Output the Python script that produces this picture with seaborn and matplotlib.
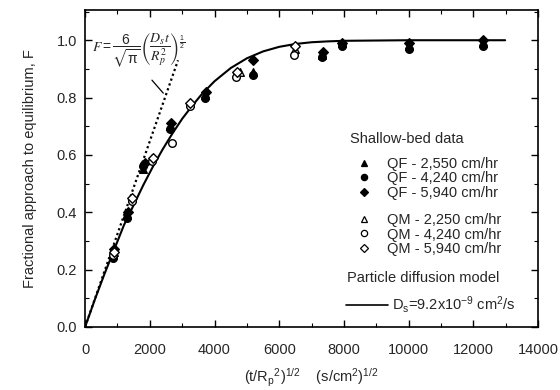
import matplotlib
matplotlib.use("Agg")
import matplotlib.pyplot as plt
import seaborn as sns
import pandas as pd
from matplotlib.lines import Line2D
from matplotlib.ticker import MultipleLocator, FormatStrFormatter

sns.set_style("ticks")
plt.rcParams["font.family"] = ["Liberation Sans", "DejaVu Sans"]
plt.rcParams["mathtext.default"] = "regular"
plt.rcParams["font.size"] = 10.5

# ---- data ----
qf2550_x = [870, 1300, 1800, 2630, 3700, 5200, 7320, 7940, 10010, 12300]
qf2550_f = [0.25, 0.39, 0.55, 0.70, 0.81, 0.89, 0.95, 0.99, 0.98, 0.99]
qf4240_x = [870, 1300, 1800, 2630, 3700, 5200, 7320, 7940, 10010, 12300]
qf4240_f = [0.24, 0.38, 0.56, 0.69, 0.80, 0.88, 0.94, 0.98, 0.97, 0.98]
qf5940_x = [900, 1320, 1850, 2650, 3750, 5200, 7350, 7950, 10000, 12300]
qf5940_f = [0.27, 0.40, 0.57, 0.71, 0.82, 0.93, 0.96, 0.99, 0.99, 1.00]
qm2250_x = [880, 1450, 2070, 3250, 4800, 6500]
qm2250_f = [0.26, 0.45, 0.59, 0.78, 0.89, 0.97]
qm4240_x = [860, 1450, 2070, 2700, 3250, 4650, 6450]
qm4240_f = [0.25, 0.44, 0.58, 0.64, 0.77, 0.87, 0.95]
qm5940_x = [890, 1450, 2100, 3250, 4700, 6500]
qm5940_f = [0.26, 0.45, 0.59, 0.78, 0.89, 0.98]

model_x = [0, 300, 600, 900, 1200, 1500, 1800, 2100, 2400, 2700, 3000, 3300,
           3600, 4000, 4500, 5000, 5500, 6000, 6500, 7000, 7500, 8000, 10000, 12980]
model_f = [0, 0.095, 0.185, 0.27, 0.355, 0.425, 0.495, 0.56, 0.62, 0.675, 0.726, 0.77,
           0.811, 0.857, 0.903, 0.937, 0.961, 0.977, 0.987, 0.993, 0.996, 0.998, 1.0, 1.0]
short_x = [0, 2870]
short_f = [0, 0.93]

labels = ["QF - 2,550 cm/hr", "QF - 4,240 cm/hr", "QF - 5,940 cm/hr",
          "QM - 2,250 cm/hr", "QM - 4,240 cm/hr", "QM - 5,940 cm/hr"]
xticks = [0, 2000, 4000, 6000, 8000, 10000, 12000, 14000]
yticks = [0.0, 0.2, 0.4, 0.6, 0.8, 1.0]

series = [(qf2550_x, qf2550_f, "^", True), (qf4240_x, qf4240_f, "o", True),
          (qf5940_x, qf5940_f, "D", True), (qm2250_x, qm2250_f, "^", False),
          (qm4240_x, qm4240_f, "o", False), (qm5940_x, qm5940_f, "D", False)]

fig = plt.figure(figsize=(5.6, 3.9), dpi=100)
ax = fig.add_axes([0.152, 0.162, 0.809, 0.812])

sns.lineplot(x=model_x, y=model_f, ax=ax, color="black", lw=1.5)
sns.lineplot(x=short_x, y=short_f, ax=ax, color="black", lw=1.6,
             linestyle=(0, (1, 1.3)))

handles = []
for (xs, fs, m, filled), lab in zip(series, labels):
    df = pd.DataFrame({"x": xs, "F": fs})
    size = 30 if m != "D" else 24
    sns.scatterplot(data=df, x="x", y="F", ax=ax, marker=m, s=size,
                    color="black" if filled else "white",
                    edgecolor="black", linewidth=1.0, zorder=3)
    handles.append(Line2D([], [], marker=m, ls="none", ms=4.5 if m != "D" else 3.8,
                          mfc="black" if filled else "white", mec="black", mew=0.9))

ax.set_xlim(0, 14000)
ax.set_ylim(0, 1.105)
ax.set_xticks(xticks)
ax.set_yticks(yticks)
ax.yaxis.set_major_formatter(FormatStrFormatter("%.1f"))
ax.xaxis.set_minor_locator(MultipleLocator(1000))
ax.yaxis.set_minor_locator(MultipleLocator(0.1))
ax.tick_params(which="both", direction="in", top=True, right=True, color="black")
ax.tick_params(which="major", length=5, width=1, labelsize=10.5)
ax.tick_params(axis="x", which="major", pad=12)
ax.tick_params(axis="y", which="major", pad=6)
ax.tick_params(which="minor", length=3, width=0.8)
for sp in ax.spines.values():
    sp.set_visible(True)
    sp.set_color("black")
    sp.set_linewidth(1.2)

ax.set_xlabel(r"(t/R$_p$$^2$)$^{1/2}$    (s/cm$^2$)$^{1/2}$", fontsize=10.5, labelpad=7)
ax.set_ylabel("Fractional approach to equilibrium, F", fontsize=10.5, labelpad=14)

ax.text(1650, 0.965,
        r"$\mathit{F}=\dfrac{6}{\sqrt{\pi}}\left(\dfrac{\mathit{D_s t}}{\mathit{R_p^2}}\right)^{\frac{1}{2}}$",
        math_fontfamily="stix", fontsize=10, ha="center", va="center")
ax.annotate("", xy=(2472, 0.808), xytext=(2009, 0.868),
            arrowprops=dict(arrowstyle="-", color="black", lw=0.9))

common = dict(frameon=False, fontsize=10.5, handletextpad=0.6, borderpad=0,
              borderaxespad=0, labelspacing=0.05, handlelength=2.0)
ax.text(0.585, 0.593, "Shallow-bed data", transform=ax.transAxes,
        ha="left", va="center", fontsize=10.5)
legA = ax.legend(handles[:3], labels[:3], loc="upper left",
                 bbox_to_anchor=(0.583, 0.537), **common)
ax.add_artist(legA)
legB = ax.legend(handles[3:], labels[3:], loc="upper left",
                 bbox_to_anchor=(0.583, 0.36), **common)
ax.add_artist(legB)
ax.text(0.579, 0.155, "Particle diffusion model", transform=ax.transAxes,
        ha="left", va="center", fontsize=10.5)
line_h = Line2D([], [], color="black", lw=1.2)
legC = ax.legend([line_h], [r"D$_s$=9.2x10$^{-9}$ cm$^2$/s"],
                 loc="upper left", bbox_to_anchor=(0.575, 0.103),
                 **{**common, "handlelength": 2.9, "handletextpad": 0.25})

fig.savefig("out.png", dpi=100)
